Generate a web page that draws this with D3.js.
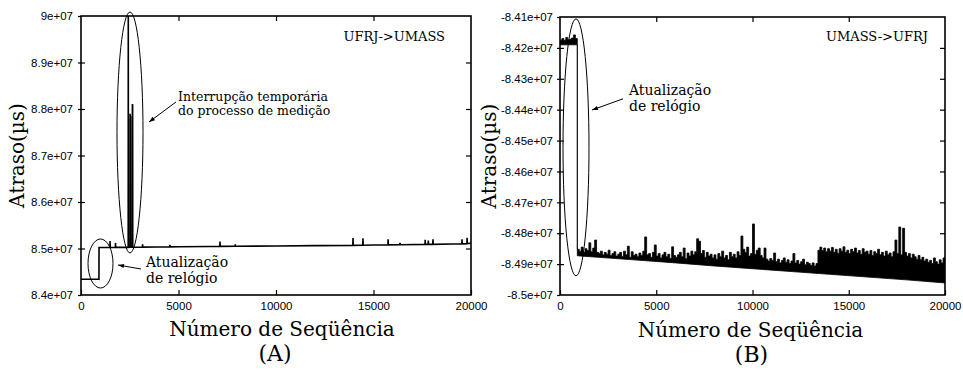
<!DOCTYPE html>
<html>
<head>
<meta charset="utf-8">
<script src="https://cdn.jsdelivr.net/npm/d3@7"></script>
<style>
  body { margin: 0; background: #fff; }
  svg { display: block; }
</style>
</head>
<body>
<svg id="chart" width="963" height="372"></svg>
<script>
// ---------------- data ----------------
const seqTicks = [0, 5000, 10000, 15000, 20000];
const delayTicksA = [8.4e7, 8.5e7, 8.6e7, 8.7e7, 8.8e7, 8.9e7, 9e7];
const delayTicksB = [-8.5e7, -8.49e7, -8.48e7, -8.47e7, -8.46e7, -8.45e7, -8.44e7, -8.43e7, -8.42e7, -8.41e7];

// (A) UFRJ->UMASS: vertices of the trace
const seqA = [0, 900, 920, 925, 1200, 1480, 1490, 1500, 1760, 1770, 1780, 2100,
  2420, 2425, 2430, 2515, 2520, 2525, 2535, 2540, 2545, 2630, 2636, 2642, 2648, 2654, 2660,
  3150, 3160, 3170, 4550, 4560, 4570, 5000, 6600, 7120, 7130, 7140, 7900, 7910, 7920,
  10000, 12000, 13940, 13950, 13960, 14450, 14460, 14470, 15000, 15740, 15750, 15760,
  16350, 16360, 16370, 17640, 17650, 17660, 17800, 17810, 17820, 18040, 18050, 18060,
  19000, 19530, 19540, 19550, 19790, 19800, 19810, 20000];
const delayA = [8.4338e7, 8.4342e7, 8.4340e7, 8.5022e7, 8.5020e7, 8.5024e7, 8.5160e7, 8.5022e7, 8.5022e7, 8.5120e7, 8.5024e7, 8.5026e7,
  8.5025e7, 9.0500e7, 8.5025e7, 8.5026e7, 8.7900e7, 8.5026e7, 8.5026e7, 8.7850e7, 8.5026e7, 8.5026e7, 8.8110e7, 8.5026e7, 8.8090e7, 8.5028e7, 8.5028e7,
  8.5030e7, 8.5090e7, 8.5030e7, 8.5036e7, 8.5080e7, 8.5036e7, 8.5038e7, 8.5044e7, 8.5046e7, 8.5150e7, 8.5046e7, 8.5048e7, 8.5090e7, 8.5048e7,
  8.5055e7, 8.5062e7, 8.5068e7, 8.5226e7, 8.5068e7, 8.5070e7, 8.5222e7, 8.5070e7, 8.5075e7, 8.5078e7, 8.5200e7, 8.5078e7,
  8.5082e7, 8.5120e7, 8.5082e7, 8.5088e7, 8.5190e7, 8.5088e7, 8.5089e7, 8.5170e7, 8.5089e7, 8.5090e7, 8.5200e7, 8.5090e7,
  8.5097e7, 8.5100e7, 8.5200e7, 8.5100e7, 8.5105e7, 8.5230e7, 8.5105e7, 8.5112e7];

// (B) UMASS->UFRJ: upper edge of the noisy trace every 100 packets, lower edge at a few points
const seqB = d3.range(0, 20001, 100);
const highB = [
  -8.4175e7, -8.4170e7, -8.4176e7, -8.4166e7, -8.4174e7, -8.4172e7, -8.4168e7, -8.4158e7, -8.4170e7,
  -8.4852e7, -8.4858e7, -8.4845e7, -8.4862e7, -8.4850e7, -8.4856e7, -8.4831e7, -8.4860e7, -8.4848e7, -8.4822e7, -8.4862e7,
  -8.4865e7, -8.4858e7, -8.4870e7, -8.4862e7, -8.4868e7, -8.4855e7, -8.4872e7, -8.4866e7, -8.4860e7, -8.4874e7,
  -8.4868e7, -8.4862e7, -8.4875e7, -8.4858e7, -8.4870e7, -8.4842e7, -8.4878e7, -8.4860e7, -8.4872e7, -8.4868e7,
  -8.4876e7, -8.4864e7, -8.4872e7, -8.4858e7, -8.4812e7, -8.4870e7, -8.4866e7, -8.4878e7, -8.4862e7, -8.4838e7,
  -8.4874e7, -8.4866e7, -8.4880e7, -8.4870e7, -8.4862e7, -8.4876e7, -8.4868e7, -8.4882e7, -8.4844e7, -8.4872e7,
  -8.4878e7, -8.4870e7, -8.4862e7, -8.4876e7, -8.4848e7, -8.4882e7, -8.4864e7, -8.4874e7, -8.4858e7, -8.4870e7,
  -8.4860e7, -8.4818e7, -8.4826e7, -8.4866e7, -8.4856e7, -8.4878e7, -8.4862e7, -8.4874e7, -8.4868e7, -8.4880e7,
  -8.4870e7, -8.4884e7, -8.4866e7, -8.4876e7, -8.4858e7, -8.4880e7, -8.4872e7, -8.4886e7, -8.4862e7, -8.4876e7,
  -8.4868e7, -8.4880e7, -8.4860e7, -8.4872e7, -8.4809e7, -8.4852e7, -8.4862e7, -8.4845e7, -8.4874e7, -8.4866e7,
  -8.4770e7, -8.4868e7, -8.4855e7, -8.4848e7, -8.4872e7, -8.4880e7, -8.4848e7, -8.4884e7, -8.4890e7, -8.4882e7,
  -8.4888e7, -8.4864e7, -8.4892e7, -8.4884e7, -8.4896e7, -8.4888e7, -8.4880e7, -8.4894e7, -8.4886e7, -8.4898e7,
  -8.4890e7, -8.4866e7, -8.4896e7, -8.4888e7, -8.4900e7, -8.4892e7, -8.4884e7, -8.4902e7, -8.4894e7, -8.4898e7,
  -8.4904e7, -8.4896e7, -8.4906e7, -8.4898e7, -8.4855e7, -8.4845e7, -8.4856e7, -8.4848e7, -8.4860e7, -8.4850e7,
  -8.4858e7, -8.4846e7, -8.4862e7, -8.4852e7, -8.4865e7, -8.4850e7, -8.4858e7, -8.4844e7, -8.4862e7, -8.4855e7,
  -8.4866e7, -8.4852e7, -8.4860e7, -8.4848e7, -8.4864e7, -8.4856e7, -8.4868e7, -8.4850e7, -8.4862e7, -8.4858e7,
  -8.4868e7, -8.4856e7, -8.4872e7, -8.4860e7, -8.4866e7, -8.4852e7, -8.4870e7, -8.4862e7, -8.4874e7, -8.4858e7,
  -8.4870e7, -8.4864e7, -8.4876e7, -8.4860e7, -8.4822e7, -8.4866e7, -8.4780e7, -8.4870e7, -8.4784e7, -8.4862e7,
  -8.4874e7, -8.4866e7, -8.4880e7, -8.4868e7, -8.4876e7, -8.4884e7, -8.4872e7, -8.4886e7, -8.4878e7, -8.4890e7,
  -8.4884e7, -8.4894e7, -8.4888e7, -8.4898e7, -8.4880e7, -8.4892e7, -8.4900e7, -8.4886e7, -8.4896e7, -8.4880e7,
  -8.4876e7];
const seqLowB = [0, 900, 900, 2000, 4000, 6000, 8000, 10000, 12000, 14000, 16000, 18000, 20000];
const lowB = [-8.4190e7, -8.4190e7, -8.4873e7, -8.4878e7, -8.4887e7, -8.4896e7, -8.4906e7, -8.4915e7,
  -8.4924e7, -8.4933e7, -8.4942e7, -8.4951e7, -8.4961e7];

// ---------------- layout ----------------
const svg = d3.select("#chart");
const serif = "'DejaVu Serif', serif";
const sans = "'Liberation Sans', Arial, sans-serif";

function fmtExp(v) {
    return d3.format(".3~e")(v).replace("\u2212", "-").replace(/e([+-])(\d)$/, "e$10$2");
}

function drawPanel(p) {
    const w = p.width, h = p.height;
    const g = svg.append("g").attr("transform", "translate(" + p.left + "," + p.top + ")");

    const x = d3.scaleLinear().domain([0, 20000]).range([0, w]);
    const y = d3.scaleLinear().domain(p.yDomain).range([h, 0]);

    g.append("defs").append("clipPath").attr("id", "clip" + p.id)
        .append("rect").attr("width", w).attr("height", h);

    // data
    const plot = g.append("g").attr("clip-path", "url(#clip" + p.id + ")");
    p.drawData(plot, x, y);

    // axes
    const styleAxis = sel => {
        sel.select(".domain").remove();
        sel.selectAll("line").attr("stroke", "#000").attr("stroke-width", 1.2);
        sel.selectAll("text").attr("font-family", sans).attr("font-size", 11.5).attr("fill", "#000");
    };
    g.append("g").attr("transform", "translate(0," + h + ")")
        .call(d3.axisBottom(x).tickValues(seqTicks).tickSize(-5).tickPadding(7).tickFormat(d3.format("d")))
        .call(styleAxis);
    g.append("g")
        .call(d3.axisTop(x).tickValues(seqTicks.slice(1, -1)).tickSize(-5).tickFormat(""))
        .call(styleAxis);
    g.append("g")
        .call(d3.axisLeft(y).tickValues(p.yTicks).tickSize(3).tickPadding(p.pad).tickFormat(fmtExp))
        .call(styleAxis);
    g.append("g")
        .call(d3.axisLeft(y).tickValues(p.yTicks.slice(1, -1)).tickSize(-4).tickFormat(""))
        .call(styleAxis);
    g.append("g").attr("transform", "translate(" + w + ",0)")
        .call(d3.axisRight(y).tickValues(p.yTicks.slice(1, -1)).tickSize(-5).tickFormat(""))
        .call(styleAxis);

    g.append("rect").attr("width", w).attr("height", h)
        .attr("fill", "none").attr("stroke", "#000").attr("stroke-width", 1.6);

    // titles
    g.append("text")
        .attr("transform", "translate(" + p.yTitleX + "," + (h / 2) + ") rotate(-90)")
        .attr("text-anchor", "middle").attr("font-family", serif).attr("font-size", 20)
        .text("Atraso(\u00b5s)");
    g.append("text")
        .attr("x", w / 2 + p.titleDx).attr("y", 320)
        .attr("text-anchor", "middle").attr("font-family", serif).attr("font-size", 20)
        .text("Número de Seqüência");
    g.append("text")
        .attr("x", w / 2 + p.labelDx).attr("y", 345)
        .attr("text-anchor", "middle").attr("font-family", serif).attr("font-size", 22)
        .text(p.label);

    // annotations, placed in data units
    g.append("text")
        .attr("x", x(p.route[0])).attr("y", y(p.route[1]))
        .attr("text-anchor", "end").attr("font-family", serif).attr("font-size", 13)
        .text(p.route[2]);

    p.ellipses.forEach(e => {
        g.append("ellipse")
            .attr("cx", x(e[0])).attr("cy", y(e[1]))
            .attr("rx", x(e[2]) - x(0)).attr("ry", Math.abs(y(p.yDomain[0] + e[3]) - y(p.yDomain[0])))
            .attr("fill", "none").attr("stroke", "#000").attr("stroke-width", 1);
    });

    p.notes.forEach(n => {
        const t = g.append("text")
            .attr("x", x(n.at[0])).attr("y", y(n.at[1]))
            .attr("font-family", serif).attr("font-size", n.size);
        n.lines.forEach((l, i) => {
            t.append("tspan").attr("x", x(n.at[0])).attr("dy", i ? n.lead : 0).text(l);
        });
        g.append("line")
            .attr("x1", x(n.from[0])).attr("y1", y(n.from[1]))
            .attr("x2", x(n.to[0])).attr("y2", y(n.to[1]))
            .attr("stroke", "#000").attr("stroke-width", 1)
            .attr("marker-end", "url(#arrow)");
    });
}

svg.append("defs").append("marker")
    .attr("id", "arrow").attr("viewBox", "0 0 10 10")
    .attr("refX", 10).attr("refY", 5)
    .attr("markerWidth", 7).attr("markerHeight", 6).attr("orient", "auto")
    .append("path").attr("d", "M0,1.5L10,5L0,8.5Z").attr("fill", "#000");

drawPanel({
    id: "A", left: 81, top: 16, width: 390, height: 279,
    yDomain: [8.4e7, 9e7], yTicks: delayTicksA, pad: 5,
    yTitleX: -57, titleDx: 6, labelDx: -1, label: "(A)",
    route: [18667, 8.9462e7, "UFRJ->UMASS"],
    ellipses: [[2513, 8.7495e7, 667, 2.591e6], [1000, 8.4677e7, 641, 0.527e6]],
    notes: [
        {at: [4974, 8.8172e7], size: 12.5, lead: 13.5, lines: ["Interrupção temporária", "do processo de medição"],
         from: [4872, 8.8151e7], to: [3487, 8.7720e7]},
        {at: [3333, 8.4609e7], size: 14, lead: 16, lines: ["Atualização", "de relógio"],
         from: [3077, 8.4559e7], to: [1897, 8.4645e7]}
    ],
    drawData: (plot, x, y) => {
        plot.append("path")
            .attr("d", d3.line().x((d, i) => x(d)).y((d, i) => y(delayA[i]))(seqA))
            .attr("fill", "none").attr("stroke", "#000").attr("stroke-width", 1.6);
    }
});

drawPanel({
    id: "B", left: 560, top: 17, width: 385, height: 278,
    yDomain: [-8.5e7, -8.41e7], yTicks: delayTicksB, pad: 4,
    yTitleX: -64, titleDx: -2, labelDx: -1, label: "(B)",
    route: [19117, -8.4178e7, "UMASS->UFRJ"],
    ellipses: [[831, -8.4522e7, 675, 4.159e5]],
    notes: [
        {at: [3584, -8.4352e7], size: 14, lead: 16, lines: ["Atualização", "de relógio"],
         from: [3273, -8.4365e7], to: [1662, -8.4401e7]}
    ],
    drawData: (plot, x, y) => {
        const hi = d3.line().curve(d3.curveStepAfter)(seqB.map((s, i) => [x(s), y(highB[i])]));
        const lo = d3.line()(seqLowB.map((s, i) => [x(s), y(lowB[i])]).reverse());
        plot.append("path")
            .attr("d", hi + "L" + lo.slice(1) + "Z")
            .attr("fill", "#000").attr("stroke", "#000").attr("stroke-width", 0.8)
            .attr("stroke-linejoin", "miter");
    }
});
</script>
</body>
</html>
